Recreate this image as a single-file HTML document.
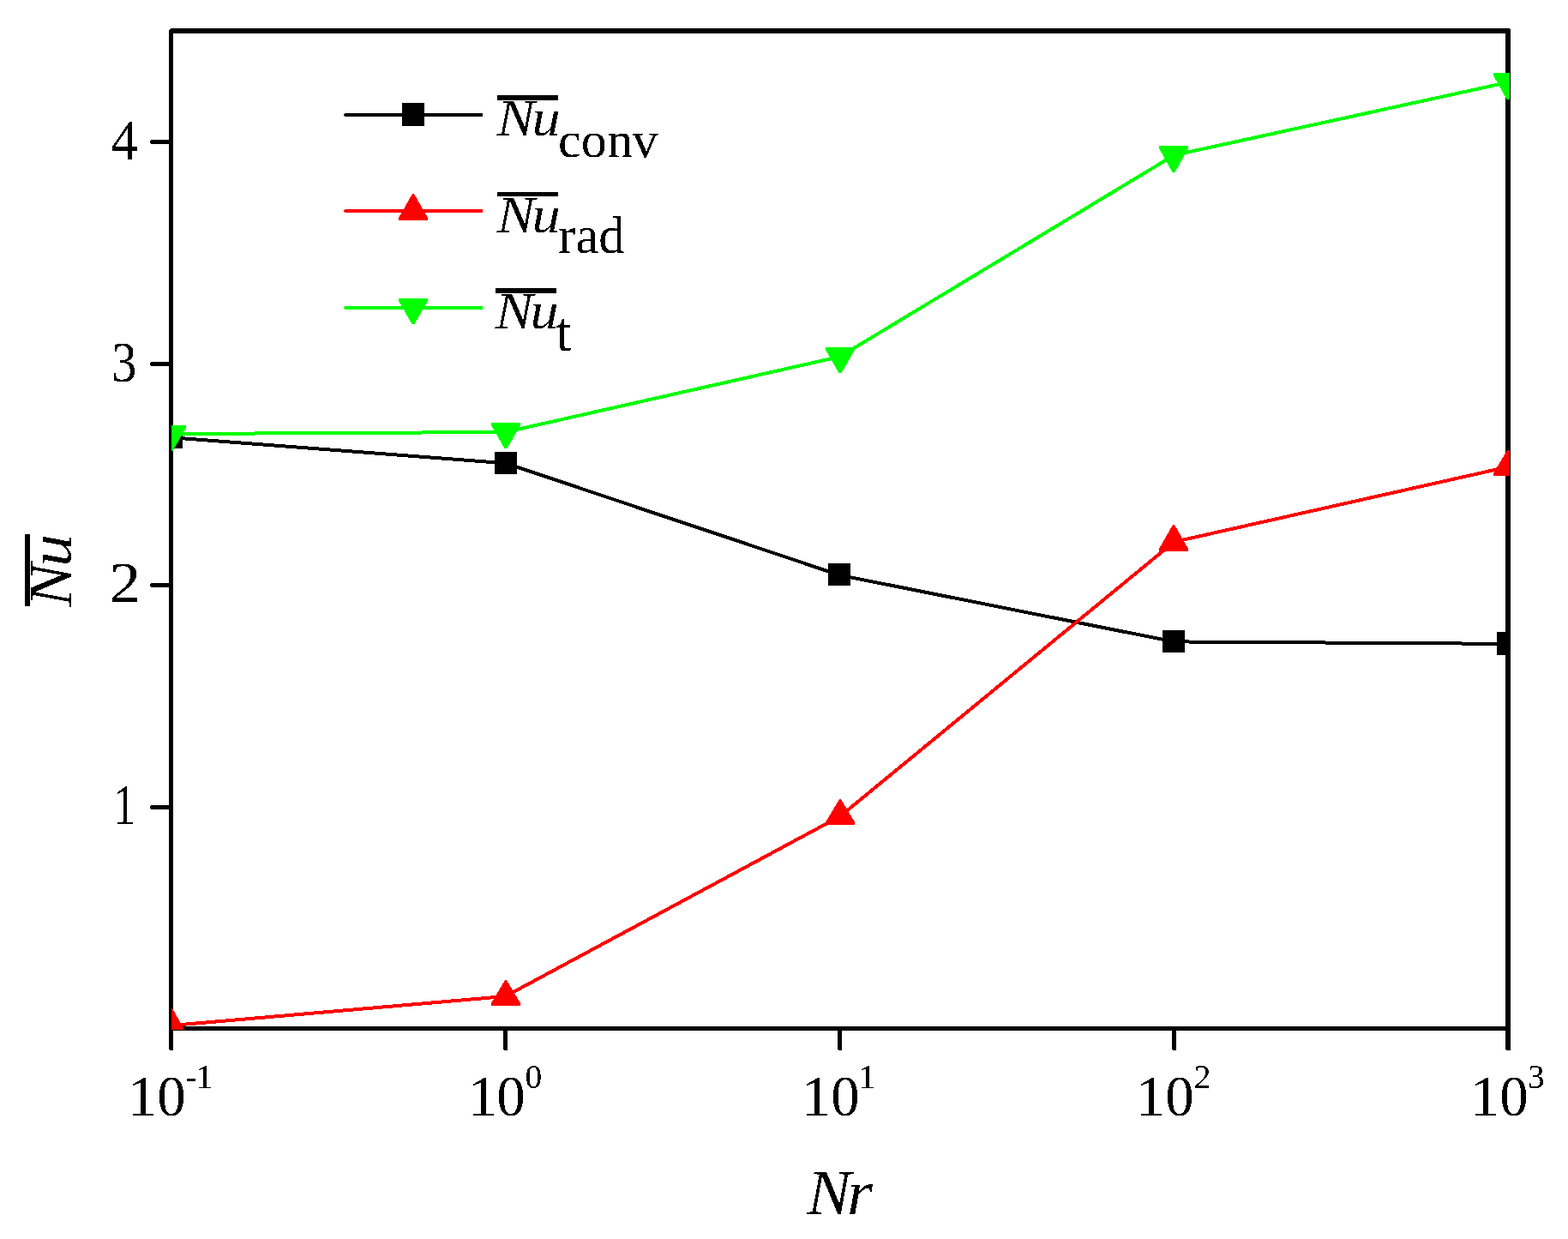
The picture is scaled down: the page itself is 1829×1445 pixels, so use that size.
<!DOCTYPE html>
<html lang="en"><head><meta charset="utf-8"><title>Nu versus Nr</title>
<style>
html,body{margin:0;padding:0;background:#fff;}
body{width:1829px;height:1445px;overflow:hidden;}
svg{display:block;}
text{font-family:"Liberation Serif","DejaVu Serif",serif;fill:#000;}
text.i{font-style:italic;filter:url(#hard);}
text.r{filter:url(#hard2);}
</style></head><body>
<svg width="1829" height="1445" viewBox="0 0 1829 1445" role="img" aria-label="Average Nusselt number versus Nr">
<defs>
<clipPath id="plot"><rect x="200" y="36" width="1561" height="1165"/></clipPath>
<filter id="hard" x="-5%" y="-5%" width="110%" height="110%" color-interpolation-filters="sRGB"><feComponentTransfer><feFuncA type="discrete" tableValues="0 0 0 1 1"/></feComponentTransfer></filter>
<filter id="hard2" x="-5%" y="-5%" width="110%" height="110%" color-interpolation-filters="sRGB"><feComponentTransfer><feFuncA type="discrete" tableValues="0 1"/></feComponentTransfer></filter>
</defs>
<rect width="1829" height="1445" fill="#fff"/>
<g fill="#000" shape-rendering="crispEdges">
<polygon points="197,35 199,33 1760,33 1762,35 1762,1224 1761,1225 1757,1225 1756,1224 1756,39 202,39 202,1225 198,1225 197,1224"/>
<rect x="197" y="1197" width="1565" height="5"/>
<polygon points="587,1202 592,1202 592,1224 591,1225 588,1225 587,1224"/>
<polygon points="977,1202 982,1202 982,1224 981,1225 978,1225 977,1224"/>
<polygon points="1367,1202 1372,1202 1372,1224 1371,1225 1368,1225 1367,1224"/>
<polygon points="197,163 197,168 176,168 175,167 175,164 176,163"/>
<polygon points="197,422 197,427 176,427 175,426 175,423 176,422"/>
<polygon points="197,680 197,685 176,685 175,684 175,681 176,680"/>
<polygon points="197,939 197,944 176,944 175,943 175,940 176,939"/>
</g>
<g clip-path="url(#plot)" shape-rendering="crispEdges">
<polyline points="200,510.3 590,540.3 979.5,670.8 1369.5,748.4 1759,750.85" fill="none" stroke="#000" stroke-width="4" stroke-linejoin="round"/>
<rect x="187" y="497" width="26" height="26" fill="#000"/>
<rect x="577" y="527" width="26" height="26" fill="#000"/>
<rect x="966" y="657" width="26" height="26" fill="#000"/>
<rect x="1356" y="735" width="26" height="26" fill="#000"/>
<rect x="1746" y="737" width="26" height="27" fill="#000"/>
<polyline points="200,1196 589.5,1162 980,952 1369.5,632 1759,544.5" fill="none" stroke="#f00" stroke-width="4" stroke-linejoin="round"/>
<polygon points="199,1176 201,1176 217,1204 217,1207 183,1207 183,1204" fill="#f00"/>
<polygon points="589,1143 591,1143 607,1170 607,1173 573,1173 573,1170" fill="#f00"/>
<polygon points="979,932 981,932 997,959 997,962 963,962 963,959" fill="#f00"/>
<polygon points="1368,612 1370,612 1386,640 1386,643 1352,643 1352,640" fill="#f00"/>
<polygon points="1758,525 1760,525 1776,552 1776,555 1742,555 1742,552" fill="#f00"/>
<polyline points="200,506 589.5,504 979.5,416 1369.5,181 1759,96" fill="none" stroke="#0f0" stroke-width="4" stroke-linejoin="round"/>
<polygon points="183,496 217,496 217,499 201.5,526 198.5,526 183,499" fill="#0f0"/>
<polygon points="573,493 607,493 607,496 591.5,523 588.5,523 573,496" fill="#0f0"/>
<polygon points="963,405 997,405 997,408 981.5,435 978.5,435 963,408" fill="#0f0"/>
<polygon points="1352,170 1386,170 1386,173 1370.5,201 1367.5,201 1352,173" fill="#0f0"/>
<polygon points="1742,85 1776,85 1776,88 1760.5,116 1757.5,116 1742,88" fill="#0f0"/>
</g>
<g shape-rendering="crispEdges">
<polygon points="402,132 563,132 563,135 562,136 402,136 401,135 401,133" fill="#000"/>
<rect x="469" y="120" width="26" height="27" fill="#000"/>
<polygon points="402,244 562,244 563,245 563,247 562,248 402,248 401,247 401,245" fill="#f00"/>
<polygon points="481,226 483,226 499,254 499,257 465,257 465,254" fill="#f00"/>
<polygon points="402,357 563,357 563,360 562,361 402,361 401,360 401,358" fill="#0f0"/>
<polygon points="465,348 499,348 499,351 483.5,378 480.5,378 465,351" fill="#0f0"/>
<rect x="580" y="111" width="71" height="6"/>
<rect x="580" y="224" width="71" height="5"/>
<rect x="578" y="336" width="71" height="6"/>
</g>
<text class="i" transform="translate(579.58,158.06) scale(1.1000,1)" x="0.00 37.15" style="font-size:60.4px">Nu</text>
<text class="r" transform="translate(650.98,183.00)" x="0.00 26.90 57.22 86.55" style="font-size:60.1px">conv</text>
<text class="i" transform="translate(579.53,271.06) scale(1.1000,1)" x="0.00 37.18" style="font-size:60.4px">Nu</text>
<text class="r" transform="translate(650.93,295.00)" x="0.00 20.46 47.26" style="font-size:60.7px">rad</text>
<text class="i" transform="translate(577.58,383.10) scale(1.1000,1)" x="0.00 37.13" style="font-size:60.4px">Nu</text>
<text class="r" transform="translate(648.34,408.60) scale(1.0043,1)" x="0.00" style="font-size:65.2444px">t</text>
<text class="r" transform="translate(129.54,186.00) scale(0.9394,1)" x="0.00" style="font-size:67.0722px">4</text>
<text class="r" transform="translate(130.00,444.90) scale(0.8673,1)" x="0.00" style="font-size:67.9245px">3</text>
<text class="r" transform="translate(127.50,702.00) scale(1.0856,1)" x="0.00" style="font-size:67.4717px">2</text>
<text class="r" transform="translate(132.58,961.10) scale(0.7600,1)" x="0.00" style="font-size:66.9697px">1</text>
<text class="r" transform="translate(149.28,1301.40)" x="0.00 33.92" style="font-size:67px">10<tspan x="67.08 79.35" dy="-32.2" style="font-size:39.3px">-1</tspan></text>
<text class="r" transform="translate(546.33,1301.40)" x="0.00 32.90" style="font-size:67px">10<tspan x="66.24" dy="-32.2" style="font-size:39.3px">0</tspan></text>
<text class="r" transform="translate(935.29,1301.40)" x="0.00 33.94" style="font-size:67px">10<tspan x="66.22" dy="-32.2" style="font-size:39.3px">1</tspan></text>
<text class="r" transform="translate(1325.29,1301.40)" x="0.00 33.94" style="font-size:67px">10<tspan x="67.52" dy="-32.2" style="font-size:39.3px">2</tspan></text>
<text class="r" transform="translate(1715.29,1301.40)" x="0.00 33.94" style="font-size:67px">10<tspan x="66.69" dy="-32.2" style="font-size:39.3px">3</tspan></text>
<text class="i" transform="translate(941.36,1416.00) scale(1.0520,1)" x="0.00 44.24" style="font-size:73.2px">Nr</text>
<rect x="29" y="623" width="6" height="84" shape-rendering="crispEdges"/>
<text class="i" transform="translate(83.06,0) rotate(-90) translate(-708.12,0.00) scale(1.0520,1)" x="0.00 44.83" style="font-size:72.2px">Nu</text>
</svg></body></html>
